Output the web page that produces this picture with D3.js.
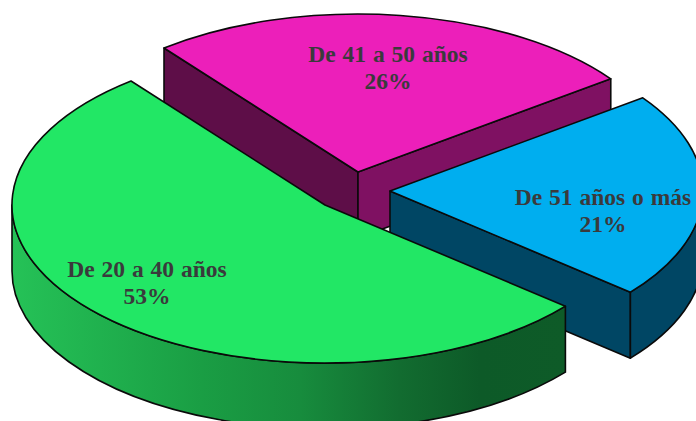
<!DOCTYPE html>
<html lang="es">
<head>
<meta charset="utf-8">
<style>
html,body{margin:0;padding:0;background:#fff;overflow:hidden}
svg{display:block}
text{font-family:"Liberation Serif","Times New Roman",serif;font-weight:bold;font-size:23.5px;fill:#3a3a3c;text-anchor:middle;word-spacing:1px}
</style>
<script src="https://cdn.jsdelivr.net/npm/d3@7/dist/d3.min.js"></script>
</head>
<body>
<svg id="chart" width="696" height="421"></svg>
<script>
// Data
const categories = ["De 41 a 50 años", "De 51 años o más", "De 20 a 40 años"];
const shares = [25.6, 21.1, 53.3];
const topColors = ["#ec1fba", "#00aeef", "#22e765"];

// Layout of the 3D pie
const W = 696, H = 421;
const rx = 313, ry = 158, depth = 66;
const centers = [[358, 172], [390, 191], [325, 205]];
const labelAt = [[388, 62], [603, 205], [147, 277]];
const lineGap = 27;
const sideColors = ["#7f1162", "#004664", "url(#greenWall)"];
const leftWallColors = ["#5e0e48", null, null];
const rad = d => d * Math.PI / 180;

const svg = d3.select("#chart").attr("viewBox", `0 0 ${W} ${H}`);

const grad = svg.append("defs").append("linearGradient")
  .attr("id", "greenWall").attr("gradientUnits", "userSpaceOnUse")
  .attr("x1", 12).attr("x2", 566).attr("y1", 0).attr("y2", 0);
grad.selectAll("stop")
  .data([[0, "#25c257"], [0.34, "#1a9e44"], [0.52, "#178c3d"], [0.7, "#126c30"], [0.845, "#0d5a28"], [1, "#0e5b28"]])
  .join("stop").attr("offset", d => d[0]).attr("stop-color", d => d[1]);

const pie = d3.pie().sort(null).value(d => d)
  .startAngle(rad(-38.3)).endAngle(rad(321.7));
const arcs = pie(shares);

const pt = (c, a, dy = 0) => [c[0] + rx * Math.sin(a), c[1] - ry * Math.cos(a) + dy];
const fmt = p => p[0].toFixed(2) + " " + p[1].toFixed(2);

function topPath(c, d) {
  const large = d.endAngle - d.startAngle > Math.PI ? 1 : 0;
  return `M${fmt(c)}L${fmt(pt(c, d.startAngle))}A${rx} ${ry} 0 ${large} 1 ${fmt(pt(c, d.endAngle))}Z`;
}
function rimPath(c, d) {
  const a0 = Math.max(d.startAngle, Math.PI / 2), a1 = Math.min(d.endAngle, 3 * Math.PI / 2);
  if (a1 <= a0) return null;
  const large = a1 - a0 > Math.PI ? 1 : 0;
  return `M${fmt(pt(c, a0))}A${rx} ${ry} 0 ${large} 1 ${fmt(pt(c, a1))}` +
    `L${fmt(pt(c, a1, depth))}A${rx} ${ry} 0 ${large} 0 ${fmt(pt(c, a0, depth))}Z`;
}
function wallPath(c, a) {
  const p = pt(c, a);
  return `M${fmt(c)}L${fmt(p)}L${fmt([p[0], p[1] + depth])}L${fmt([c[0], c[1] + depth])}Z`;
}

const slices = svg.selectAll("g.slice").data(arcs).join("g").attr("class", "slice")
  .attr("stroke", "#0a0a0a").attr("stroke-width", 1.6).attr("stroke-linejoin", "round");

slices.each(function (d, i) {
  const g = d3.select(this), c = centers[i];
  if (Math.cos(d.startAngle) > 0 && Math.sin(d.startAngle) < 0 && leftWallColors[i])
    g.append("path").attr("d", wallPath(c, d.startAngle)).attr("fill", leftWallColors[i]);
  if (i === 0 || i === 1)
    g.append("path").attr("d", wallPath(c, d.endAngle)).attr("fill", sideColors[i]);
  const rim = rimPath(c, d);
  if (rim) g.append("path").attr("d", rim).attr("fill", sideColors[i]);
  g.append("path").attr("d", topPath(c, d)).attr("fill", topColors[i]);
});

const pct = d3.format(".0f");
const labels = svg.selectAll("text.lab").data(arcs).join("text").attr("class", "lab");
labels.each(function (d, i) {
  const t = d3.select(this);
  t.append("tspan").attr("x", labelAt[i][0]).attr("y", labelAt[i][1]).text(categories[i]);
  t.append("tspan").attr("x", labelAt[i][0]).attr("y", labelAt[i][1] + lineGap).text(pct(d.value) + "%");
});
</script>
</body>
</html>
